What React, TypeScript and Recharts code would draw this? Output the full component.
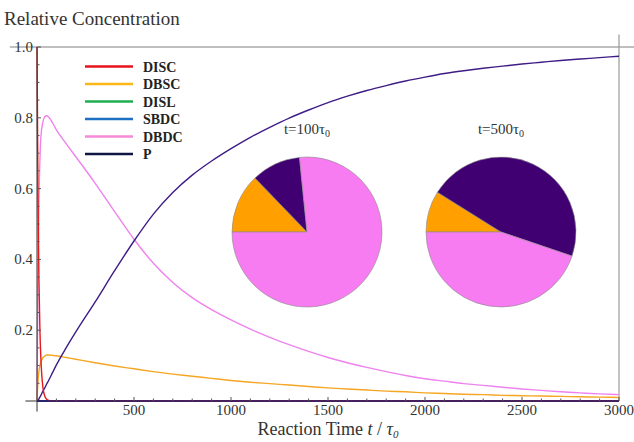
import { LineChart, Line, XAxis, YAxis, ReferenceLine, PieChart, Pie, Cell } from 'recharts';

// reaction time (t / tau0)
const times = [0, 5, 10, 15, 20, 30, 40, 50, 60, 80, 100, 150, 200, 300, 400, 500, 600, 700, 800, 900, 1000, 1100, 1200, 1300, 1400, 1500, 1600, 1700, 1800, 1900, 2000, 2100, 2200, 2300, 2400, 2500, 2600, 2700, 2800, 2900, 3000];

const disc = [1.0, 0.59, 0.34, 0.2, 0.12, 0.04, 0.014, 0.005, 0.002, 0, 0, 0, 0, 0, 0, 0, 0, 0, 0, 0, 0, 0, 0, 0, 0, 0, 0, 0, 0, 0, 0, 0, 0, 0, 0, 0, 0, 0, 0, 0, 0];
const dbsc = [0, 0.055, 0.085, 0.1, 0.11, 0.122, 0.127, 0.13, 0.13, 0.129, 0.128, 0.123, 0.118, 0.108, 0.099, 0.091, 0.083, 0.076, 0.07, 0.064, 0.058, 0.053, 0.049, 0.045, 0.041, 0.037, 0.034, 0.031, 0.028, 0.026, 0.023, 0.021, 0.019, 0.018, 0.016, 0.015, 0.014, 0.013, 0.012, 0.011, 0.01];
const disl = [0, 0, 0, 0, 0, 0, 0, 0, 0, 0, 0, 0, 0, 0, 0, 0, 0, 0, 0, 0, 0, 0, 0, 0, 0, 0, 0, 0, 0, 0, 0, 0, 0, 0, 0, 0, 0, 0, 0, 0, 0];
const sbdc = [0, 0, 0, 0, 0, 0, 0, 0, 0, 0, 0, 0, 0, 0, 0, 0, 0, 0, 0, 0, 0, 0, 0, 0, 0, 0, 0, 0, 0, 0, 0, 0, 0, 0, 0, 0, 0, 0, 0, 0, 0];
const dbdc = [0, 0.36, 0.57, 0.68, 0.745, 0.787, 0.803, 0.806, 0.802, 0.786, 0.766, 0.727, 0.69, 0.615, 0.535, 0.457, 0.389, 0.335, 0.292, 0.258, 0.229, 0.203, 0.18, 0.159, 0.14, 0.123, 0.108, 0.095, 0.083, 0.072, 0.063, 0.056, 0.049, 0.044, 0.039, 0.034, 0.03, 0.026, 0.023, 0.02, 0.018];
const prod = [0, 0.002, 0.006, 0.011, 0.016, 0.027, 0.037, 0.048, 0.058, 0.08, 0.102, 0.15, 0.195, 0.28, 0.368, 0.452, 0.528, 0.589, 0.638, 0.678, 0.713, 0.745, 0.773, 0.799, 0.822, 0.843, 0.861, 0.877, 0.891, 0.904, 0.915, 0.925, 0.933, 0.94, 0.946, 0.952, 0.957, 0.962, 0.966, 0.97, 0.974];

const seriesNames = ['DISC', 'DBSC', 'DISL', 'SBDC', 'DBDC', 'P'];
const legendColors = ['#e8141c', '#fbb617', '#1fae52', '#1f6fc2', '#f58ad8', '#0e1646'];

// pie snapshots
const pieNames = ['DBSC', 'P', 'DBDC'];
const pie100 = [0.128, 0.106, 0.766];
const pie500 = [0.089, 0.463, 0.448];
const pieColors = ['#ffa000', '#400072', '#f77cf2'];

const xTicks = [100, 200, 300, 400, 500, 600, 700, 800, 900, 1000, 1100, 1200, 1300, 1400, 1500, 1600, 1700, 1800, 1900, 2000, 2100, 2200, 2300, 2400, 2500, 2600, 2700, 2800, 2900, 3000];
const yTicks = [0.05, 0.1, 0.15, 0.2, 0.25, 0.3, 0.35, 0.4, 0.45, 0.5, 0.55, 0.6, 0.65, 0.7, 0.75, 0.8, 0.85, 0.9, 0.95, 1.0];

const data = times.map((t, i) => ({
  t,
  DISC: disc[i],
  DBSC: dbsc[i],
  DISL: disl[i],
  SBDC: sbdc[i],
  DBDC: dbdc[i],
  P: prod[i],
}));

const pieData100 = pieNames.map((name, i) => ({ name, value: pie100[i] }));
const pieData500 = pieNames.map((name, i) => ({ name, value: pie500[i] }));

const serif = '"Times New Roman", "Liberation Serif", "DejaVu Serif", "Noto Serif", Times, serif';

const XTick = (props: any) => {
  const { x, y, payload } = props;
  const major = payload.value % 500 === 0;
  return (
    <g>
      <line x1={x} x2={x} y1={y} y2={y - (major ? 4 : 2.5)} stroke="#555" strokeWidth={1} />
      {major && (
        <text x={x} y={y + 14} textAnchor="middle" fontFamily={serif} fontSize={15} fill="#333">
          {payload.value}
        </text>
      )}
    </g>
  );
};

const YTick = (props: any) => {
  const { x, y, payload } = props;
  const v = Math.round(payload.value * 100);
  const major = v % 20 === 0;
  return (
    <g>
      <line x1={x} x2={x + (major ? 4 : 2.5)} y1={y} y2={y} stroke="#555" strokeWidth={1} />
      {major && (
        <text x={x - 4} y={y + 5} textAnchor="end" fontFamily={serif} fontSize={15} fill="#333">
          {(payload.value as number).toFixed(1)}
        </text>
      )}
    </g>
  );
};

export default function App() {
  return (
    <div style={{ position: 'absolute', left: 0, top: 0, width: 634, height: 442, background: '#fff', fontFamily: serif }}>
      <div style={{ position: 'absolute', left: 0, top: 0 }}>
        <LineChart width={634} height={442} data={data} margin={{ top: 47, right: 15, left: 0, bottom: 0 }}>
          <XAxis
            dataKey="t"
            type="number"
            domain={[0, 3000]}
            ticks={xTicks}
            interval={0}
            tick={XTick}
            tickLine={false}
            tickSize={0}
            tickMargin={0}
            height={41}
            axisLine={{ stroke: '#23236b', strokeWidth: 1.5 }}
          />
          <YAxis
            type="number"
            domain={[0, 1]}
            ticks={yTicks}
            interval={0}
            tick={YTick}
            tickLine={false}
            tickSize={0}
            tickMargin={0}
            width={37}
            axisLine={{ stroke: '#333', strokeWidth: 1 }}
          />
          <ReferenceLine segment={[{ x: -140, y: 1 }, { x: 3085, y: 1 }]} stroke="#aaa" strokeWidth={1.5} ifOverflow="visible" />
          <ReferenceLine segment={[{ x: 3000, y: 0 }, { x: 3000, y: 1.035 }]} stroke="#999" strokeWidth={1.2} ifOverflow="visible" />
          <ReferenceLine segment={[{ x: -60, y: 0 }, { x: 0, y: 0 }]} stroke="#333" strokeWidth={1} ifOverflow="visible" />
          <ReferenceLine segment={[{ x: 0, y: 0 }, { x: 0, y: -0.03 }]} stroke="#333" strokeWidth={1} ifOverflow="visible" />
          <Line type="monotone" dataKey="DBDC" stroke="#ee82ee" strokeWidth={1.4} dot={false} isAnimationActive={false} />
          <Line type="monotone" dataKey="DBSC" stroke="#f5a623" strokeWidth={1.4} dot={false} isAnimationActive={false} />
          <Line type="monotone" dataKey="P" stroke="#3f1c86" strokeWidth={1.4} dot={false} isAnimationActive={false} />
          <Line type="monotone" dataKey="DISL" stroke="#2a3a7a" strokeWidth={1.8} dot={false} isAnimationActive={false} />
          <Line type="monotone" dataKey="SBDC" stroke="#26307e" strokeWidth={1.8} dot={false} isAnimationActive={false} />
          <Line type="monotone" dataKey="DISC" stroke="#e41a1c" strokeWidth={1.4} dot={false} isAnimationActive={false} />
        </LineChart>
      </div>
      <div style={{ position: 'absolute', left: 0, top: 0, pointerEvents: 'none' }}>
        <PieChart width={634} height={442} margin={{ top: 0, right: 0, left: 0, bottom: 0 }}>
          <Pie data={pieData100} dataKey="value" cx={307} cy={232} outerRadius={75} startAngle={180} endAngle={-180} stroke="#8a8a8a" strokeWidth={0.6} isAnimationActive={false}>
            {pieData100.map((d, i) => (
              <Cell key={`a-${d.name}`} fill={pieColors[i]} />
            ))}
          </Pie>
          <Pie data={pieData500} dataKey="value" cx={501} cy={232} outerRadius={75} startAngle={180} endAngle={-180} stroke="#8a8a8a" strokeWidth={0.6} isAnimationActive={false}>
            {pieData500.map((d, i) => (
              <Cell key={`b-${d.name}`} fill={pieColors[i]} />
            ))}
          </Pie>
        </PieChart>
      </div>
      <svg width={634} height={442} style={{ position: 'absolute', left: 0, top: 0, pointerEvents: 'none', fontFamily: serif }}>
        <text x={4} y={25} fontSize={19} fill="#333">Relative Concentration</text>
        <text x={328} y={435} fontSize={18} fill="#333" textAnchor="middle">
          Reaction Time <tspan fontStyle="italic">t</tspan> / <tspan fontStyle="italic">τ</tspan>
          <tspan fontStyle="italic" fontSize={11} dy={3}>0</tspan>
        </text>
        <text x={307} y={134} fontSize={15} fill="#333" textAnchor="middle">
          t=100τ<tspan fontSize={10} dy={3}>0</tspan>
        </text>
        <text x={501} y={134} fontSize={15} fill="#333" textAnchor="middle">
          t=500τ<tspan fontSize={10} dy={3}>0</tspan>
        </text>
        {seriesNames.map((name, i) => (
          <g key={name}>
            <line x1={85} x2={133} y1={66.5 + i * 17.5} y2={66.5 + i * 17.5} stroke={legendColors[i]} strokeWidth={2.5} />
            <text x={143} y={71.5 + i * 17.5} fontSize={14} fontWeight="bold" fill="#222">{name}</text>
          </g>
        ))}
      </svg>
    </div>
  );
}
